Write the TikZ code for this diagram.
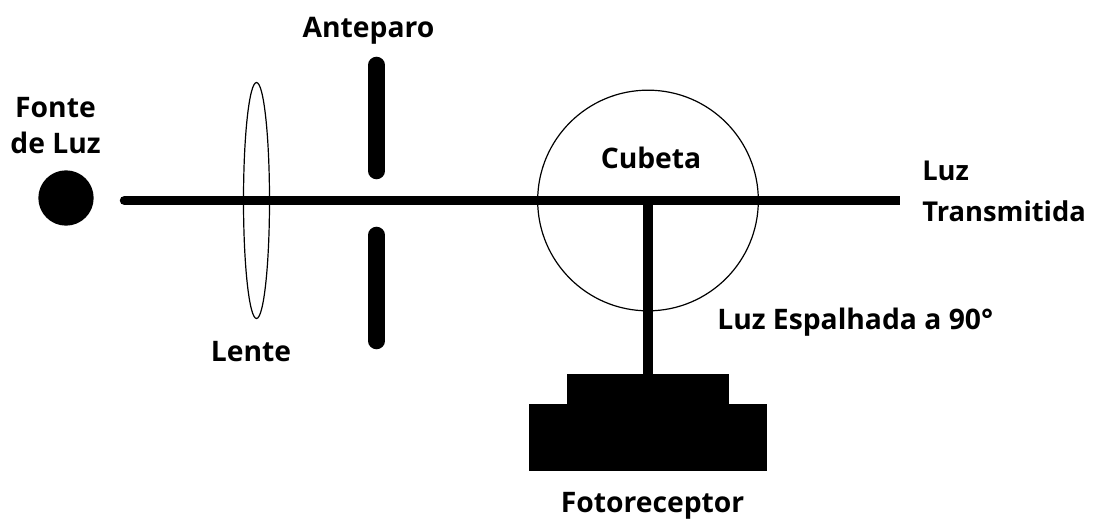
\documentclass[tikz,border=0pt]{standalone}
\usepackage{fontspec}
\usetikzlibrary{shapes.geometric}
\setmainfont{Open Sans}
\tikzset{
  lbl/.style={font=\fontsize{21.2}{27}\selectfont\bfseries, text=black, inner sep=0pt, align=left},
  beam/.style={line width=7.1pt, line cap=round, black},
  slit/.style={line width=12.4pt, line cap=round, black},
  thin outline/.style={draw=black, line width=0.9pt}
}
\begin{document}
\begin{tikzpicture}[x=0.75pt,y=-0.75pt]
\useasboundingbox[fill=white] (0,0) rectangle (1094,518);
% labels
\node[lbl,anchor=base] (anteparo) at (368.5,37) {Anteparo};
\node[lbl,anchor=center,align=center] (fonte) at (55.5,125.5) {Fonte\\de Luz};
\node[lbl,anchor=base] (cubetaL) at (651,168) {Cubeta};
\node[lbl,anchor=west,font=\fontsize{20.5}{30.7}\selectfont\bfseries] (luzT) at (922,191) {Luz\\Transmitida};
\node[lbl,anchor=base] (lente) at (251,361) {Lente};
\node[lbl,anchor=base west] (luzE) at (717,329) {Luz Espalhada a 90°};
\node[lbl,anchor=base] (foto) at (652.5,512) {Fotoreceptor};
% source
\node[circle,fill=black,minimum size=41.5pt,inner sep=0pt] (src) at (66,198) {};
% lens
\node[ellipse,thin outline,minimum width=19.5pt,minimum height=177pt,inner sep=0pt] (lens) at (256.5,200.5) {};
% cuvette
\node[circle,thin outline,minimum size=165.5pt,inner sep=0pt] (cub) at (648,200.5) {};
% beams
\coordinate (b0) at (124.5,200.5);
\coordinate (b2) at (890,200.5);
\coordinate (b1) at (900,200.5);
\coordinate (j) at (648,200.5);
\coordinate (d) at (648,375);
\draw[beam] (b0) -- (b2);
\draw[beam,line cap=butt] (j) -- (b1);
\draw[beam,line width=7.5pt,line cap=butt] (j) -- (d);
% screen
\coordinate (s1) at (376.5,65);
\coordinate (s2) at (376.5,171);
\coordinate (s3) at (376.5,235);
\coordinate (s4) at (376.5,341);
\draw[slit] (s1) -- (s2);
\draw[slit] (s3) -- (s4);
% detector
\node[fill=black,minimum width=121.5pt,minimum height=22.5pt,inner sep=0pt,outer sep=0pt] (top) at (648,389) {};
\node[fill=black,minimum width=178.5pt,minimum height=50.6pt,inner sep=0pt,outer sep=0pt] (base) at (648,437.7) {};
\end{tikzpicture}
\end{document}
